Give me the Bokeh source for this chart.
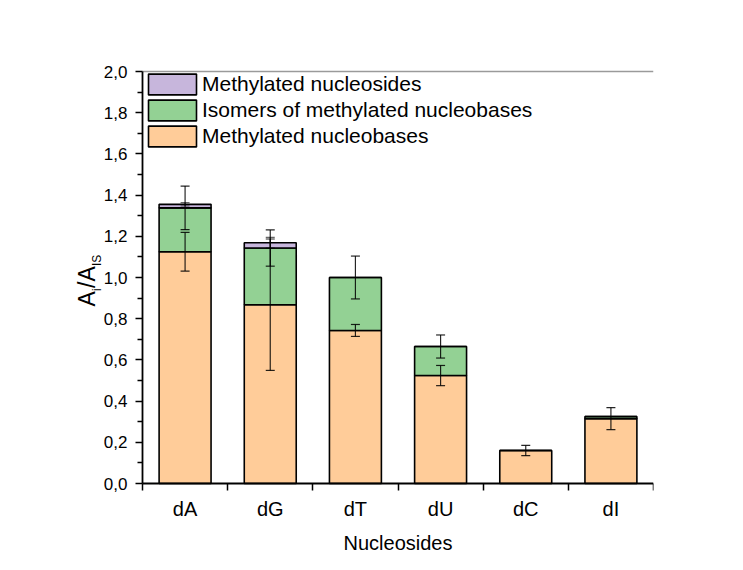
import numpy as np
from bokeh.plotting import figure
from bokeh.models import (ColumnDataSource, Range1d, FixedTicker, CustomJSTickFormatter,
                          Legend, LegendItem, Whisker, TeeHead)
from bokeh.core.properties import value
from bokeh.embed import file_html
from bokeh.resources import INLINE

# ---------------- data ----------------
nucleosides = ["dA", "dG", "dT", "dU", "dC", "dI"]
methylated_nucleobases = [1.125, 0.868, 0.743, 0.524, 0.160, 0.315]
isomers_methylated_nucleobases = [0.213, 0.275, 0.257, 0.141, 0.0, 0.010]
methylated_nucleosides = [0.017, 0.026, 0.0, 0.0, 0.0, 0.0]
err_nucleobases = [0.094, 0.319, 0.029, 0.049, 0.025, 0.053]
err_isomers = [0.106, 0.088, 0.104, 0.056, 0.0, 0.0]
err_nucleosides = [0.008, 0.026, 0.0, 0.0, 0.0, 0.0]
y_ticks = [0.0, 0.2, 0.4, 0.6, 0.8, 1.0, 1.2, 1.4, 1.6, 1.8, 2.0]
y_minor_ticks = [0.1, 0.3, 0.5, 0.7, 0.9, 1.1, 1.3, 1.5, 1.7, 1.9]

series_names = ["Methylated nucleobases", "Isomers of methylated nucleobases", "Methylated nucleosides"]
colors = ["#FFCC99", "#93D194", "#C7B6DC"]

FONT = "Liberation Sans"
N = len(nucleosides)
Y_MAX = 2.0
AXES_W, AXES_H = 511, 412        # size of the axes box (px)
GAP_L, PAD_T, PAD_B = 82, 16, 80  # extra frame room around the axes box (px)
px_per_x = AXES_W / N
px_per_y = AXES_H / Y_MAX
FRAME_H = AXES_H + PAD_T + PAD_B

x = list(np.arange(N) + 0.5)
src = ColumnDataSource(dict(
    x=x,
    nb=methylated_nucleobases,
    iso=isomers_methylated_nucleobases,
    ns=methylated_nucleosides,
))

p = figure(frame_width=AXES_W + GAP_L, frame_height=FRAME_H,
           min_border_left=60, min_border_top=55, min_border_right=85, min_border_bottom=5,
           x_range=Range1d(-GAP_L / px_per_x, N),
           y_range=Range1d(-PAD_B / px_per_y, Y_MAX + PAD_T / px_per_y),
           output_backend="svg", toolbar_location=None,
           background_fill_color="white", border_fill_color="white")
p.outline_line_color = None
p.grid.visible = False

rs = p.vbar_stack(["nb", "iso", "ns"], x="x", width=0.61, source=src,
                  fill_color=colors, line_color="black", line_width=1.6)

# error bars at the top of each stacked segment
nb_arr = np.array(methylated_nucleobases)
iso_top = nb_arr + np.array(isomers_methylated_nucleobases)
ns_top = iso_top + np.array(methylated_nucleosides)
for tops, errs, alpha in [(nb_arr, err_nucleobases, 0.85),
                          (iso_top, err_isomers, 0.85),
                          (ns_top, err_nucleosides, 0.6)]:
    xs, up, lo = [], [], []
    for xi, t, e in zip(x, tops, errs):
        if e > 0:
            xs.append(xi); up.append(t + e); lo.append(t - e)
    wsrc = ColumnDataSource(dict(x=xs, upper=up, lower=lo))
    w = Whisker(base="x", upper="upper", lower="lower", source=wsrc, dimension="height",
                level="overlay",
                line_color="black", line_alpha=alpha, line_width=1.2,
                upper_head=TeeHead(size=9, line_color="black", line_alpha=alpha, line_width=1.2),
                lower_head=TeeHead(size=9, line_color="black", line_alpha=alpha, line_width=1.2))
    p.add_layout(w)

# top frame line (gray)
p.segment(x0=[0], y0=[Y_MAX], x1=[N], y1=[Y_MAX], line_color="#9a9a9a", line_width=1.5)

# x axis, fixed at y = 0
xa = p.below[0]
xa.fixed_location = 0
xa.bounds = (0, N)
xa.ticker = FixedTicker(ticks=x, minor_ticks=list(range(N + 1)))
xa.formatter = CustomJSTickFormatter(args=dict(names=nucleosides),
                                     code="return names[Math.round(tick - 0.5)];")
xa.major_tick_out = 0
xa.major_tick_in = 0
xa.minor_tick_out = 7
xa.minor_tick_in = 0
xa.minor_tick_line_width = 1.5
xa.minor_tick_line_color = "black"
xa.axis_line_width = 1.8
xa.axis_line_color = "black"
xa.major_label_text_font = FONT
xa.major_label_text_font_size = "20px"
xa.major_label_text_color = "black"
xa.major_label_standoff = 7
xa.axis_label = "Nucleosides"
xa.axis_label_text_font = FONT
xa.axis_label_text_font_size = "20px"
xa.axis_label_text_font_style = "normal"
xa.axis_label_text_color = "black"
xa.axis_label_standoff = 9

# y axis, fixed at x = 0
ya = p.left[0]
ya.fixed_location = 0
ya.bounds = (0, Y_MAX)
ya.ticker = FixedTicker(ticks=y_ticks, minor_ticks=y_minor_ticks)
ya.formatter = CustomJSTickFormatter(code="return tick.toFixed(1).replace('.', ',');")
ya.major_tick_out = 7
ya.major_tick_in = 0
ya.minor_tick_out = 5
ya.minor_tick_in = 0
ya.major_tick_line_width = 1.5
ya.minor_tick_line_width = 1.5
ya.major_tick_line_color = "black"
ya.minor_tick_line_color = "black"
ya.axis_line_width = 1.8
ya.axis_line_color = "black"
ya.major_label_text_font = FONT
ya.major_label_text_font_size = "17px"
ya.major_label_text_color = "black"
ya.major_label_standoff = 8
ya.axis_label = None

# y axis title A_i/A_IS built from rotated pieces (offsets in px from the axes' origin)
ang = np.pi / 2
main_pieces = [("A", -56, 177), ("/A", -56, 195.5)]
sub_pieces = [("i", -46, 192.4), ("IS", -46, 217.5)]
for pieces, fs in [(main_pieces, "23px"), (sub_pieces, "12px")]:
    p.text(x=[ox / px_per_x for _, ox, _ in pieces],
           y=[oy / px_per_y for _, _, oy in pieces],
           text=[t for t, _, _ in pieces], angle=ang,
           text_font=value(FONT), text_font_size=value(fs), text_color="black",
           text_align="left", text_baseline="alphabetic")

# legend
items = [LegendItem(label=series_names[2], renderers=[rs[2]]),
         LegendItem(label=series_names[1], renderers=[rs[1]]),
         LegendItem(label=series_names[0], renderers=[rs[0]])]
leg = Legend(items=items, location=(GAP_L, FRAME_H - PAD_T - 78), margin=0, padding=0,
             glyph_width=60, glyph_height=26, spacing=0, label_standoff=0,
             label_text_font=FONT, label_text_font_size="21px", label_text_color="black",
             background_fill_alpha=0, border_line_color=None)
p.add_layout(leg)

open("out.html", "w").write(file_html(p, INLINE))
